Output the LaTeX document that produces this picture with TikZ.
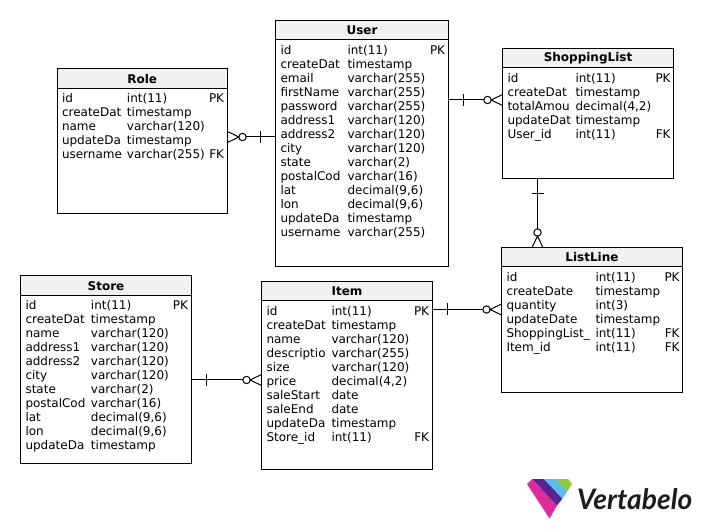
\documentclass[tikz,border=0pt]{standalone}
\usepackage{fontspec}
\usepackage{array}
\setmainfont{DejaVu Sans}
\newfontfamily\logofont{Lato}
\usetikzlibrary{calc}
\definecolor{titlegray}{HTML}{F0F0F0}
\definecolor{logopink}{HTML}{DD2C9C}
\definecolor{logopurple}{HTML}{5B2391}
\definecolor{logoblue}{HTML}{5BBBEF}
\definecolor{logogreen}{HTML}{8CCB3C}
\definecolor{logoink}{HTML}{1C1C1C}
\tikzset{
  x=1pt,y=-1pt,
  wire/.style={line width=1pt,black},
  titlebox/.style={draw=black,line width=1pt,fill=titlegray,anchor=north west,inner sep=0pt,outer sep=0pt,font=\fontsize{12}{14}\selectfont\bfseries},
  bodybox/.style={draw=black,line width=1pt,fill=white,anchor=north west,inner sep=0pt,outer sep=0pt},
  rowtext/.style={anchor=north west,inner sep=0pt,outer sep=0pt,font=\fontsize{12}{14}\selectfont},
}
% id, position, width, header h, body h, title, col1 w, col2 w, rows
\newcommand{\ertable}[9]{%
  \node[titlebox,minimum width=#3pt,minimum height=#4pt] (#1) at #2 {#6};
  \node[bodybox,minimum width=#3pt,minimum height=#5pt] (#1body) at (#1.south west) {};
  \node[rowtext] (#1rows) at ($(#1body.north west)+(5,4.5)$) {%
    \setlength{\tabcolsep}{0pt}%
    \begin{tabular}{@{}w{l}{#7pt}w{l}{#8pt}r@{}}#9\end{tabular}};
}
% #1 one-side point, #2 many-side point
\newcommand{\erlink}[2]{%
  \draw[wire] (#1) -- ($(#2)!18.7pt!(#1)$);
  \draw[wire] ($(#1)!15pt!(#2)!6pt!90:(#2)$) -- ($(#1)!15pt!(#2)!6pt!-90:(#2)$);
  \draw[wire] ($(#2)!15pt!(#1)$) circle[radius=3.7pt];
  \draw[wire] ($(#2)!5.5pt!90:(#1)$) -- ($(#2)!11.3pt!(#1)$) -- ($(#2)!5.5pt!-90:(#1)$);
}
\begin{document}
\begin{tikzpicture}
\useasboundingbox (0,0) rectangle (702,529);
\fill[white] (0,0) rectangle (702,529);

\ertable{user}{(275.5,20.5)}{173}{19.5}{226.5}{User}{67}{82.5}{%
id & int(11) & PK\\
createDat & timestamp & \\
email & varchar(255) & \\
firstName & varchar(255) & \\
password & varchar(255) & \\
address1 & varchar(120) & \\
address2 & varchar(120) & \\
city & varchar(120) & \\
state & varchar(2) & \\
postalCod & varchar(16) & \\
lat & decimal(9,6) & \\
lon & decimal(9,6) & \\
updateDa & timestamp & \\
username & varchar(255) & }

\ertable{role}{(57,69)}{170.5}{19.5}{125}{Role}{65}{82}{%
id & int(11) & PK\\
createDat & timestamp & \\
name & varchar(120) & \\
updateDa & timestamp & \\
username & varchar(255) & FK}

\ertable{shop}{(502.5,48.5)}{171}{19.5}{110.5}{ShoppingList}{68}{80}{%
id & int(11) & PK\\
createDat & timestamp & \\
totalAmou & decimal(4,2) & \\
updateDat & timestamp & \\
User\_id & int(11) & FK}

\ertable{line}{(501.5,247.5)}{181}{19.5}{125.5}{ListLine}{89}{69}{%
id & int(11) & PK\\
createDate & timestamp & \\
quantity & int(3) & \\
updateDate & timestamp & \\
ShoppingList\_ & int(11) & FK\\
Item\_id & int(11) & FK}

\ertable{store}{(20.5,276)}{171}{19.5}{167.5}{Store}{65.5}{82}{%
id & int(11) & PK\\
createDat & timestamp & \\
name & varchar(120) & \\
address1 & varchar(120) & \\
address2 & varchar(120) & \\
city & varchar(120) & \\
state & varchar(2) & \\
postalCod & varchar(16) & \\
lat & decimal(9,6) & \\
lon & decimal(9,6) & \\
updateDa & timestamp & }

\ertable{item}{(261.5,281.5)}{171}{19.5}{168.5}{Item}{65}{82.5}{%
id & int(11) & PK\\
createDat & timestamp & \\
name & varchar(120) & \\
descriptio & varchar(255) & \\
size & varchar(120) & \\
price & decimal(4,2) & \\
saleStart & date & \\
saleEnd & date & \\
updateDa & timestamp & \\
Store\_id & int(11) & FK}

\coordinate (yrole) at (0,137);
\coordinate (yshop) at (0,100);
\coordinate (xshop) at (537.5,0);
\coordinate (yline) at (0,309.5);
\coordinate (yitem) at (0,380);
\erlink{userbody.west|-yrole}{rolebody.east|-yrole}
\erlink{userbody.east|-yshop}{shopbody.west|-yshop}
\erlink{shopbody.south-|xshop}{line.north-|xshop}
\erlink{itembody.east|-yline}{linebody.west|-yline}
\erlink{storebody.east|-yitem}{itembody.west|-yitem}

% logo
\fill[logopink] (527,484) -- (532.5,479) -- (557,505.5) -- (549.5,518.5) -- cycle;
\fill[logopurple] (532.5,479) -- (544,479) -- (562.5,498.6) -- (557,505.5) -- cycle;
\fill[logoblue] (544,479) -- (556,479) -- (567,491.7) -- (562.5,498.6) -- cycle;
\fill[logogreen] (556,479) -- (568,479) -- (572,484) -- (567,491.7) -- cycle;
\node[anchor=base west,inner sep=0pt,text=logoink,font=\logofont\fontsize{28.2}{30}\selectfont\bfseries\itshape] (wordmark) at (577,509) {Vertabelo};
\end{tikzpicture}
\end{document}
